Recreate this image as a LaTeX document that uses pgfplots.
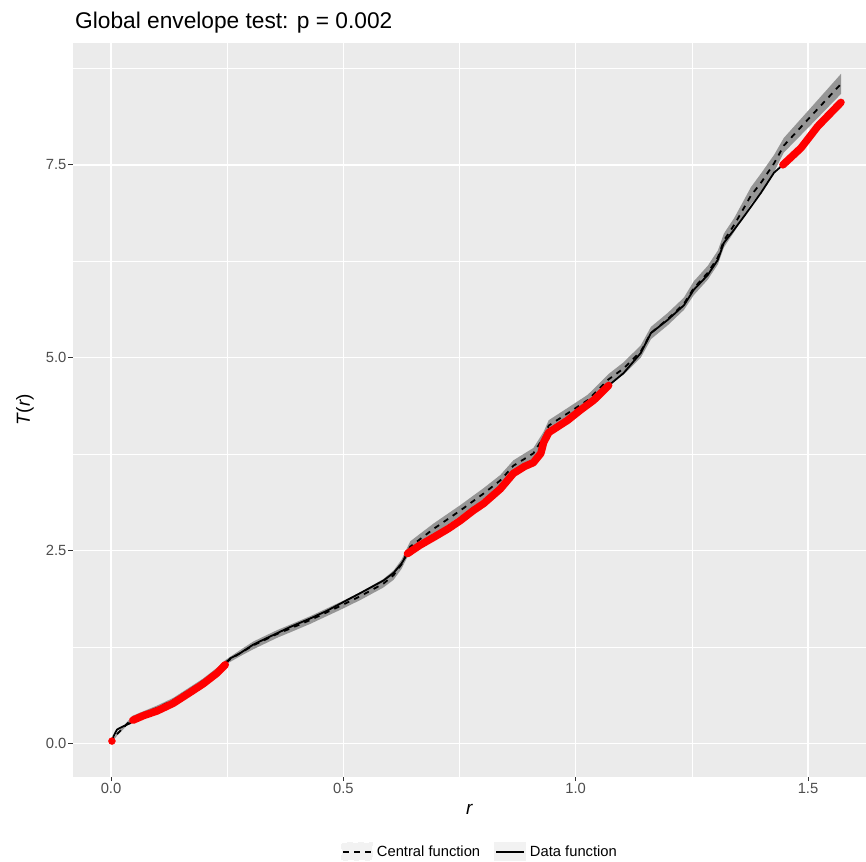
\documentclass[border=0pt]{standalone}
\usepackage{fontspec}
\setmainfont{Liberation Sans}
\usepackage{pgfplots}
\usepackage{pgfplotstable}
\pgfplotsset{compat=1.18}
\usepgfplotslibrary{fillbetween}
\definecolor{panelbg}{HTML}{EBEBEB}
\definecolor{bandc}{HTML}{969696}
\definecolor{tickc}{HTML}{333333}
\definecolor{labc}{HTML}{4D4D4D}
\definecolor{keybg}{HTML}{F2F2F2}

\pgfplotstableread{
x      c     lo    hi
0.000  0.00  0.00  0.00
0.013  0.12  0.10  0.14
0.026  0.20  0.18  0.22
0.047  0.33  0.31  0.36
0.099  0.46  0.43  0.49
0.134  0.56  0.53  0.59
0.170  0.70  0.67  0.73
0.198  0.81  0.78  0.84
0.228  0.95  0.92  0.98
0.246  1.05  1.02  1.08
0.278  1.17  1.13  1.21
0.306  1.27  1.22  1.32
0.358  1.42  1.37  1.47
0.386  1.49  1.44  1.54
0.429  1.60  1.55  1.65
0.493  1.78  1.73  1.83
0.537  1.91  1.86  1.96
0.586  2.07  2.02  2.13
0.608  2.18  2.12  2.24
0.625  2.32  2.26  2.38
0.644  2.55  2.49  2.62
0.694  2.78  2.71  2.85
0.752  3.02  2.95  3.09
0.802  3.24  3.17  3.31
0.838  3.41  3.34  3.48
0.866  3.60  3.53  3.67
0.909  3.76  3.69  3.83
0.931  3.97  3.90  4.04
0.942  4.12  4.05  4.19
0.983  4.28  4.21  4.35
1.026  4.45  4.38  4.52
1.071  4.72  4.65  4.79
1.103  4.86  4.78  4.94
1.140  5.08  5.00  5.16
1.162  5.32  5.24  5.40
1.198  5.50  5.42  5.58
1.233  5.70  5.62  5.78
1.254  5.90  5.81  5.99
1.284  6.10  6.01  6.19
1.306  6.30  6.21  6.39
1.319  6.52  6.43  6.61
1.341  6.72  6.63  6.81
1.360  6.92  6.82  7.02
1.377  7.10  6.99  7.21
1.399  7.27  7.15  7.39
1.427  7.52  7.41  7.63
1.448  7.75  7.66  7.85
1.500  8.09  7.98  8.20
1.571  8.55  8.42  8.68
}\envtable

\pgfplotstableread{
x      y
0.002  0.03
0.006  0.10
0.013  0.18
0.026  0.22
0.041  0.26
0.047  0.30
0.070  0.36
0.099  0.42
0.134  0.52
0.170  0.66
0.198  0.77
0.228  0.91
0.246  1.02
0.256  1.10
0.278  1.17
0.306  1.28
0.330  1.35
0.358  1.43
0.386  1.51
0.429  1.62
0.465  1.72
0.493  1.81
0.537  1.95
0.586  2.11
0.608  2.21
0.625  2.33
0.638  2.46
0.665  2.57
0.694  2.67
0.725  2.78
0.752  2.89
0.780  3.02
0.802  3.11
0.838  3.30
0.866  3.50
0.890  3.59
0.909  3.64
0.925  3.76
0.931  3.90
0.942  4.03
0.983  4.19
1.010  4.32
1.039  4.45
1.071  4.64
1.103  4.80
1.140  5.06
1.162  5.32
1.198  5.49
1.233  5.68
1.254  5.88
1.284  6.07
1.306  6.27
1.319  6.49
1.341  6.66
1.362  6.83
1.399  7.14
1.427  7.40
1.446  7.50
1.485  7.72
1.521  8.00
1.571  8.31
}\datatable

\begin{document}
\begin{tikzpicture}
\begin{axis}[
  name=ax,
  scale only axis, width=793bp, height=733.7bp,
  xmin=-0.0818, xmax=1.6248, ymin=-0.432, ymax=9.08,
  axis background/.style={fill=panelbg},
  axis line style={draw=none},
  xtick={0,0.5,1,1.5}, xticklabels={0.0,0.5,1.0,1.5},
  ytick={0,2.5,5,7.5}, yticklabels={0.0,2.5,5.0,7.5},
  minor xtick={0.25,0.75,1.25}, minor ytick={1.25,3.75,6.25,8.75},
  grid=both,
  major grid style={white, line width=1.4bp},
  minor grid style={white, line width=0.7bp},
  tick align=outside, tick pos=left,
  major tick length=4.5bp, minor tick length=0pt,
  tick style={color=tickc, line width=1bp},
  ticklabel style={font=\fontsize{14.8}{17}\selectfont, text=labc, inner sep=2bp},
  xlabel={\textit{r}},
  ylabel={\textit{T}(\textit{r})},
  xlabel style={at={(axis description cs:0.5,-0.045)}, anchor=center, font=\fontsize{19}{22}\selectfont},
  ylabel style={at={(axis description cs:-0.0605,0.5)}, anchor=center, rotate=0, font=\fontsize{19}{22}\selectfont},
  legend columns=2,
  legend style={at={(0.5145,-0.1025)}, anchor=center, draw=none, fill=none,
    font=\fontsize{14.8}{17}\selectfont,
    /tikz/every even column/.append style={column sep=10bp},
    nodes={inner xsep=4bp, inner ysep=0bp}},
  legend image code/.code={
    \fill[keybg] (0bp,-8.5bp) rectangle (30bp,8.5bp);
    \draw[#1] (1bp,0bp) -- (29bp,0bp);
  },
]
\addplot[name path=lo, draw=none, forget plot] table[x=x, y=lo]{\envtable};
\addplot[name path=hi, draw=none, forget plot] table[x=x, y=hi]{\envtable};
\addplot[bandc, draw=none, forget plot] fill between[of=lo and hi];
\addplot[black, line width=1.8bp, dash pattern=on 5.5bp off 5.5bp] table[x=x, y=c]{\envtable};
\addlegendentry{Central function}
\addplot[black, line width=1.8bp] table[x=x, y=y]{\datatable};
\addlegendentry{Data function}
\addplot[red, line width=7.5bp, line cap=round, line join=round, forget plot,
  restrict x to domain=0.045:0.247] table[x=x, y=y]{\datatable};
\addplot[red, line width=7.5bp, line cap=round, line join=round, forget plot,
  restrict x to domain=0.636:1.072] table[x=x, y=y]{\datatable};
\addplot[red, line width=7.5bp, line cap=round, line join=round, forget plot,
  restrict x to domain=1.445:1.58] table[x=x, y=y]{\datatable};
\addplot[red, only marks, mark=*, mark size=3.5bp, forget plot,
  restrict x to domain=0:0.003] table[x=x, y=y]{\datatable};
\end{axis}
\node[anchor=base west, font=\fontsize{22.8}{26}\selectfont, inner sep=0pt]
  at ([shift={(2bp,14.7bp)}]ax.north west) {Global envelope test: p = 0.002};
\pgfresetboundingbox
\path ([shift={(-73bp,-85bp)}]ax.south west) rectangle ([shift={(0bp,43bp)}]ax.north east);
\end{tikzpicture}
\end{document}
